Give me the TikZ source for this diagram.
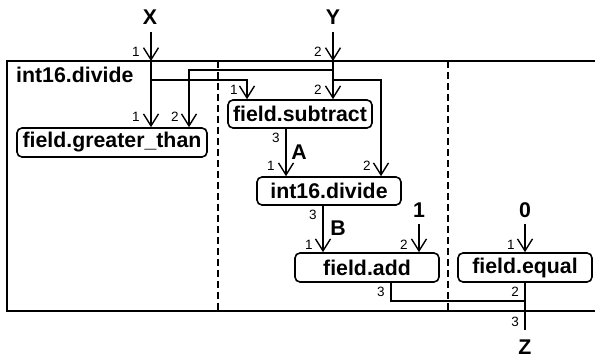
\documentclass[tikz,border=0pt]{standalone}
\usepackage{fontspec}
\setmainfont{Liberation Sans}
\usetikzlibrary{arrows.meta}
\begin{document}
\begin{tikzpicture}[x=1pt,y=-1pt,
  conn/.style={line width=1.4pt},
  arr/.style={conn,-{Straight Barb[length=12pt,width=15pt,line width=1.4pt]}},
  frameline/.style={line width=2pt},
  dashline/.style={line width=1.6pt,dash pattern=on 7pt off 4pt},
  opbox/.style={draw,line width=1.6pt,rounded corners=5pt,inner sep=0pt,
    font=\fontsize{21.3}{24}\selectfont\bfseries},
  bigtxt/.style={inner sep=0pt,font=\fontsize{21.3}{24}\selectfont\bfseries},
  port/.style={inner sep=0pt,font=\fontsize{13.5}{15}\selectfont}]
\useasboundingbox (0,0) rectangle (595,358);
% frame
\coordinate (tl) at (7,61);
\coordinate (tr) at (595,61);
\coordinate (bl) at (7,311);
\coordinate (br) at (595,311);
\draw[frameline] (tr) -- (tl) -- (bl) -- (br);
\coordinate (d1t) at (218,61);
\coordinate (d1b) at (218,311);
\coordinate (d2t) at (448,61);
\coordinate (d2b) at (448,311);
\draw[dashline] (d1t) -- (d1b);
\draw[dashline] (d2t) -- (d2b);
\node[bigtxt,anchor=west] (title) at (16,75) {int16.divide};
% boxes
\node[opbox,minimum width=190pt,minimum height=29pt] (gt) at (112,142.5) {field.greater\_than};
\node[opbox,minimum width=144pt,minimum height=28pt] (sub) at (300,114) {field.subtract};
\node[opbox,minimum width=144pt,minimum height=28pt] (div) at (329,191) {int16.divide};
\node[opbox,minimum width=144pt,minimum height=29pt] (add) at (367,267.5) {field.add};
\node[opbox,minimum width=134pt,minimum height=29pt] (eq) at (525,267.5) {field.equal};
% external labels
\node[bigtxt] (X) at (150,17) {X};
\node[bigtxt] (Y) at (333,17) {Y};
\node[bigtxt] (one) at (419,210) {1};
\node[bigtxt] (zero) at (525,210) {0};
\node[bigtxt] (Z) at (525,347.5) {Z};
\node[bigtxt] (A) at (299,152) {A};
\node[bigtxt] (B) at (338,228) {B};
% coordinates
\coordinate (xs) at (151,32);
\coordinate (xin) at (151,61);
\coordinate (ys) at (333,32);
\coordinate (yin) at (333,61);
\coordinate (xb) at (151,80);
\coordinate (xbr) at (247,80);
\coordinate (yb) at (333,70);
\coordinate (ybl) at (189,70);
\coordinate (yb2) at (333,80);
\coordinate (ybr) at (381,80);
\coordinate (os) at (419,224);
\coordinate (zs) at (525,224);
\coordinate (aj) at (391,301);
\coordinate (ej) at (525,301);
\coordinate (zend) at (525,330);
% connectors
\draw[arr] (xs) -- (xin);
\draw[arr] (ys) -- (yin);
\draw[arr] (xin) -- (xin |- gt.north);
\draw[arr] (xb) -- (xbr) -- (xbr |- sub.north);
\draw[arr] (yin) -- (yin |- sub.north);
\draw[arr] (yb) -- (ybl) -- (ybl |- gt.north);
\draw[arr] (yb2) -- (ybr) -- (ybr |- div.north);
\draw[arr] (sub.south -| 286,0) -- (div.north -| 286,0);
\draw[arr] (div.south -| 323,0) -- (add.north -| 323,0);
\draw[arr] (os) -- (os |- add.north);
\draw[arr] (zs) -- (zs |- eq.north);
\draw[conn] (add.south -| aj) -- (aj) -- (ej);
\draw[conn] (eq.south) -- (zend);
% port labels
\node[port] (p1) at (136,52) {1};
\node[port] (p2) at (318,52) {2};
\node[port] (p3) at (136,117) {1};
\node[port] (p4) at (175,117) {2};
\node[port] (p5) at (234,90) {1};
\node[port] (p6) at (318,90) {2};
\node[port] (p7) at (276,138) {3};
\node[port] (p8) at (271,166) {1};
\node[port] (p9) at (367,166) {2};
\node[port] (p10) at (313,215) {3};
\node[port] (p11) at (309,245) {1};
\node[port] (p12) at (404,245) {2};
\node[port] (p13) at (511,245) {1};
\node[port] (p14) at (381,292) {3};
\node[port] (p15) at (515,292) {2};
\node[port] (p16) at (515,322) {3};
\end{tikzpicture}
\end{document}
